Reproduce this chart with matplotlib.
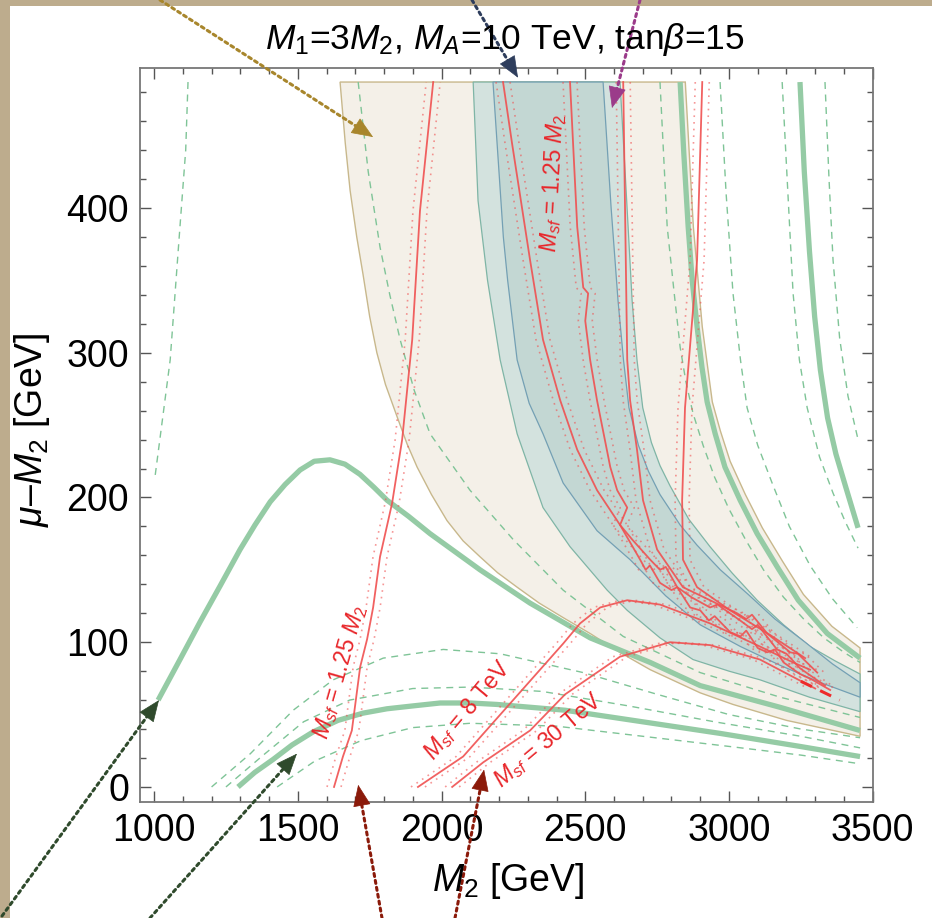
import matplotlib
matplotlib.use("Agg")
import matplotlib.pyplot as plt
import matplotlib.transforms as mtransforms
from matplotlib.patches import Polygon, Rectangle
from matplotlib.ticker import MultipleLocator
import numpy as np

plt.rcParams['font.family'] = ['Liberation Sans', 'DejaVu Sans']
plt.rcParams['mathtext.fontset'] = 'custom'
plt.rcParams['mathtext.rm'] = 'Liberation Sans'
plt.rcParams['mathtext.it'] = 'Liberation Sans:italic'
plt.rcParams['mathtext.bf'] = 'Liberation Sans:bold'

# ---- data: (M2 [GeV], mu - M2 [GeV]) ----
tan_left = [(1647, 487), (1665, 445), (1682, 412), (1705, 380), (1727, 354), (1750, 325),
            (1775, 300), (1805, 278), (1845, 256), (1880, 237), (1915, 221), (1965, 202),
            (2019, 184), (2075, 170), (2134, 159), (2195, 148), (2263, 138), (2340, 127),
            (2423, 117), (2517, 106), (2620, 93), (2726, 81), (2900, 65), (3014, 57),
            (3200, 46), (3456, 35)]
tan_right = [(2848, 487), (2876, 387), (2907, 318), (2942, 266), (2970, 246), (3004, 225),
             (3057, 202), (3116, 179), (3186, 156), (3259, 133), (3358, 111), (3456, 96)]

blue_outer_left = [(2110, 487), (2127, 405), (2160, 350), (2204, 295), (2263, 244), (2353, 193),
                   (2447, 166), (2576, 136), (2646, 122), (2760, 103), (2875, 88), (3000, 80),
                   (3108, 74), (3280, 62), (3456, 52)]
blue_outer_right = [(2621, 487), (2640, 420), (2663, 336), (2680, 295), (2700, 262), (2730, 238),
                    (2760, 222), (2795, 208), (2860, 185), (2934, 166), (3010, 148), (3098, 129),
                    (3190, 112), (3282, 97), (3370, 87), (3456, 78)]
blue_inner_left = [(2179, 487), (2215, 380), (2230, 350), (2263, 295), (2305, 265), (2353, 244),
                   (2423, 210), (2541, 177), (2656, 157), (2780, 132), (2900, 112), (3040, 97),
                   (3178, 84), (3320, 72), (3456, 62)]
blue_inner_right = [(2562, 487), (2590, 400), (2614, 336), (2633, 295), (2652, 262), (2685, 236),
                    (2720, 218), (2760, 202), (2830, 181), (2889, 167), (2970, 150), (3067, 133),
                    (3160, 116), (3265, 100), (3360, 85), (3456, 72)]

green_rise = [(1014, 60), (1090, 88), (1160, 114), (1230, 139), (1299, 164), (1351, 181),
              (1404, 197), (1456, 209), (1508, 219), (1557, 225), (1612, 226), (1664, 223),
              (1716, 216), (1765, 207), (1811, 198), (1885, 187), (1960, 175), (2134, 150),
              (2308, 127), (2517, 103), (2726, 86), (2900, 70), (3178, 55), (3456, 39)]
green_low = [(1292, 0), (1350, 10), (1414, 19), (1480, 29), (1553, 38), (1640, 46), (1727, 51),
             (1810, 54), (1901, 56), (1995, 58), (2100, 58), (2193, 57), (2430, 53), (2700, 45),
             (2969, 37), (3247, 28), (3456, 21)]
green_right = [(2830, 487), (2843, 437), (2858, 387), (2872, 350), (2889, 318), (2906, 290),
               (2924, 266), (2952, 244), (2986, 221), (3039, 198), (3098, 175), (3168, 152),
               (3241, 129), (3342, 106), (3456, 89)]
green_far = [(3247, 487), (3262, 425), (3280, 370), (3298, 325), (3318, 288), (3343, 255),
             (3372, 230), (3405, 208), (3449, 179)]

dash_far_left = [(1118, 487), (1110, 440), (1090, 387), (1056, 295), (1003, 214)]
dash_tan_left = [(1710, 487), (1745, 425), (1786, 373), (1820, 340), (1856, 309), (1905, 274),
                 (1960, 244), (2099, 205), (2249, 171), (2423, 136), (2632, 104), (2900, 79),
                 (3178, 62), (3456, 48)]
dash_tan_right = [(2760, 487), (2785, 387), (2810, 340), (2830, 304), (2850, 280), (2875, 258),
                  (2910, 236), (2950, 214), (3000, 192), (3060, 170), (3120, 150), (3190, 131),
                  (3260, 116), (3330, 103), (3400, 93), (3456, 86)]
dash_r1 = [(2969, 487), (2990, 410), (3014, 341), (3040, 295), (3063, 262), (3100, 236),
           (3150, 210), (3210, 180), (3282, 153), (3360, 130), (3446, 110)]
dash_r2 = [(3185, 487), (3205, 410), (3223, 341), (3245, 295), (3272, 262), (3315, 228),
           (3362, 203), (3405, 183), (3449, 165)]
dash_r3 = [(3334, 487), (3348, 420), (3362, 364), (3385, 310), (3414, 270), (3449, 240)]
dash_low1 = [(1200, 0), (1335, 23), (1484, 53), (1623, 74), (1797, 89), (2006, 95), (2204, 92),
             (2493, 79), (2750, 64), (3000, 50), (3250, 40), (3456, 34)]
dash_low2 = [(1250, 0), (1380, 22), (1520, 45), (1680, 60), (1900, 68), (2100, 69), (2350, 66),
             (2650, 56), (2950, 45), (3250, 35), (3456, 27)]
dash_low3 = [(1428, 0), (1560, 18), (1720, 32), (1900, 41), (2100, 44), (2400, 42), (2700, 35),
             (3000, 28), (3250, 22), (3456, 16)]

red_a = [(1626, 0), (1657, 21), (1688, 39), (1717, 83), (1741, 102), (1762, 124), (1786, 159),
         (1828, 196), (1863, 240), (1898, 309), (1925, 398), (1971, 487)]
red_8 = [(1918, 0), (2075, 21), (2249, 60), (2423, 99), (2482, 113), (2552, 124), (2646, 129),
         (2760, 126), (2934, 113), (3108, 97), (3223, 86), (3282, 81)]
red_30 = [(2037, 0), (2145, 17), (2308, 39), (2430, 64), (2621, 90), (2795, 100), (2934, 98),
          (3108, 88), (3223, 76), (3300, 68)]
red_1 = [(2214, 487), (2245, 445), (2308, 364), (2353, 309), (2413, 267), (2472, 233), (2541, 205),
         (2621, 181), (2691, 157), (2710, 150), (2725, 153), (2760, 141), (2800, 136), (2820, 138),
         (2865, 124), (2900, 122), (2930, 115), (2950, 118), (3004, 107), (3040, 104), (3060, 108),
         (3100, 96), (3133, 93), (3160, 95), (3190, 86), (3247, 78), (3290, 74), (3352, 67)]
red_2 = [(2447, 487), (2472, 387), (2493, 345), (2510, 341), (2500, 322), (2517, 295), (2541, 267),
         (2587, 221), (2611, 205), (2646, 193), (2621, 181), (2663, 171), (2726, 157), (2760, 150),
         (2780, 152), (2820, 138), (2870, 131), (2934, 124), (2960, 126), (3039, 115), (3080, 109),
         (3100, 112), (3167, 95), (3200, 92), (3247, 82), (3334, 70)]
red_3 = [(2632, 487), (2646, 295), (2656, 267), (2680, 233), (2701, 198), (2750, 164), (2840, 138),
         (2934, 129), (3028, 120), (3060, 116), (3080, 119), (3133, 106), (3213, 93), (3240, 92),
         (3307, 79)]
red_4 = [(2907, 487), (2889, 364), (2847, 262), (2837, 198), (2840, 157), (2889, 138), (3004, 122),
         (3143, 105), (3265, 89)]
red_tail = [(3250, 73), (3385, 60)]

x_major = [1000, 1500, 2000, 2500, 3000, 3500]
y_major = [0, 100, 200, 300, 400]

TAN_FILL, TAN_EDGE = '#f4f0e8', '#c8b88c'
BLUE_OUT, BLUE_IN, BLUE_EDGE = '#d3e2de', '#c3d7d3', '#74a0b4'
GREEN, RED = '#95cba5', '#f05050'


def xy(pts):
    a = np.array(pts, dtype=float)
    return a[:, 0], a[:, 1]


fig = plt.figure(figsize=(9.32, 9.18), dpi=100, facecolor='#bdac8d')
fig.add_artist(Rectangle((10 / 932, 0), 1, 1 - 6 / 918, transform=fig.transFigure,
                         facecolor='white', edgecolor='none', zorder=0))

ax = fig.add_axes([140 / 932, 116 / 918, 733 / 932, 734 / 918])
ax.set_xlim(951, 3501)
ax.set_ylim(-10.4, 496.7)

# shaded regions
ax.add_patch(Polygon(tan_left + tan_right[::-1], closed=True, facecolor=TAN_FILL,
                     edgecolor=TAN_EDGE, lw=1.0, zorder=1))
ax.add_patch(Polygon(blue_outer_left + blue_outer_right[::-1], closed=True, facecolor=BLUE_OUT,
                     edgecolor='#7fb5a6', lw=0.9, zorder=2))
ax.add_patch(Polygon(blue_inner_left + blue_inner_right[::-1], closed=True, facecolor=BLUE_IN,
                     edgecolor=BLUE_EDGE, lw=0.9, zorder=2))

# dashed green contours
for pts in [dash_far_left, dash_tan_left, dash_tan_right, dash_r1, dash_r2, dash_r3,
            dash_low1, dash_low2, dash_low3]:
    ax.plot(*xy(pts), color='#7fc497', lw=1.0, ls=(0, (5, 4)), zorder=3)

# thick green contours
for pts in [green_rise, green_low, green_right, green_far]:
    ax.plot(*xy(pts), color=GREEN, lw=3.8, solid_capstyle='butt', solid_joinstyle='round',
            zorder=4)

# red contours with dotted bands
for pts in [red_a, red_8, red_30, red_1, red_2, red_3, red_4]:
    x, y = xy(pts)
    ax.plot(x, y, color=RED, lw=1.3, alpha=0.9, zorder=5)
    for dx in (-7, 7):
        tr = mtransforms.offset_copy(ax.transData, fig=fig, x=dx, y=0, units='dots')
        ax.plot(x, y, color=RED, lw=1.2, alpha=0.6, ls=(0, (1, 3)), transform=tr, zorder=5)
ax.plot(*xy(red_tail), color='#ee2a2a', lw=2.2, ls=(0, (4, 3)), zorder=5)

# labels on the red curves
lab = dict(color='#e8262a', fontsize=16.5, ha='center', va='center', rotation_mode='anchor',
           zorder=6)
ax.text(2388, 417, r'$M_{sf}$ = 1.25 $M_2$', rotation=87, **lab)
ax.text(1647, 79, r'$M_{sf}$ = 1.25 $M_2$', rotation=74, **lab)
ax.text(2089, 53, r'$M_{sf}$ = 8 TeV', rotation=50, **lab)
ax.text(2371, 32, r'$M_{sf}$ = 30 TeV', rotation=40, **lab)

# frame and ticks
ax.xaxis.set_major_locator(plt.FixedLocator(x_major))
ax.yaxis.set_major_locator(plt.FixedLocator(y_major))
ax.xaxis.set_minor_locator(MultipleLocator(100))
ax.yaxis.set_minor_locator(MultipleLocator(20))
ax.tick_params(which='both', direction='in', top=True, right=True, color='#555555', width=1.0)
ax.tick_params(which='major', length=8, labelsize=27, pad=8)
ax.tick_params(which='minor', length=4)
for s in ax.spines.values():
    s.set_color('#777777')
    s.set_linewidth(1.3)

fig.text(505 / 932, 1 - 39 / 918, r'$M_1$=3$M_2$, $M_A$=10 TeV, tan$\beta$=15',
         ha='center', va='center', fontsize=25.5)
fig.text(508 / 932, 1 - 881 / 918, r'$M_2$ [GeV]', ha='center', va='center', fontsize=27)
fig.text(32 / 932, 1 - 430 / 918, r'$\mu$–$M_2$ [GeV]', ha='center', va='center',
         fontsize=27, rotation=90)

# dotted arrows coming from outside the frame (tail in figure pixels)
arrows = [((1762, 449), (160, 918), '#a8862c'),
          ((2266, 490), (472, 918), '#2e3d5c'),
          ((2593, 469), (640, 918), '#9b3b8a'),
          ((1017, 60), (2, 2), '#2f4a2c'),
          ((1497, 23), (150, 0), '#2f4a2c'),
          ((1710, 1.5), (382, 0), '#8b1a0a'),
          ((2148, 12), (455, 0), '#8b1a0a')]
for tip, tail, c in arrows:
    tip_px = ax.transData.transform(tip)
    d = tip_px - np.array(tail, dtype=float)
    u = d / np.hypot(*d)
    base = tip_px - u * 15
    ax.annotate('', xy=tuple(base), xycoords='figure pixels', xytext=tail,
                textcoords='figure pixels', annotation_clip=False,
                arrowprops=dict(arrowstyle='-', color=c, lw=2.2, ls=(0, (1, 1.3)),
                                shrinkA=0, shrinkB=0), zorder=8)
    ax.annotate('', xy=tip, xycoords='data', xytext=tuple(base), textcoords='figure pixels',
                annotation_clip=False,
                arrowprops=dict(arrowstyle='-|>,head_length=1.1,head_width=0.45',
                                mutation_scale=13, color=c, lw=0.5,
                                shrinkA=0, shrinkB=0), zorder=8)

fig.savefig('out.png', dpi=100, facecolor=fig.get_facecolor())
